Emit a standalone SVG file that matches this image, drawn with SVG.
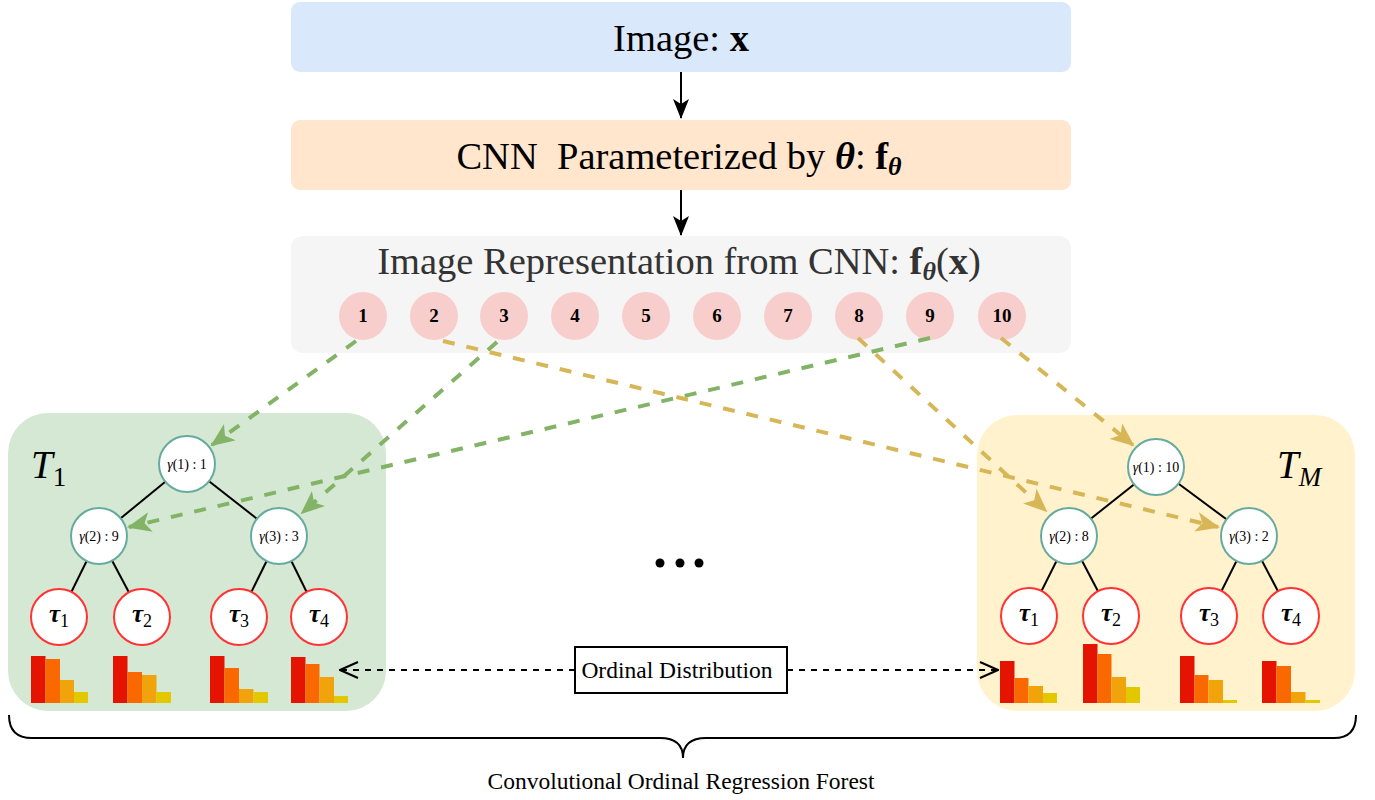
<svg xmlns="http://www.w3.org/2000/svg" width="1375" height="800" viewBox="0 0 1375 800">
<style>
text{font-family:"Liberation Serif","DejaVu Serif",serif;fill:#000}
.hdr{font-size:38.5px;text-anchor:middle}
.num{font-size:19px;font-weight:bold;text-anchor:middle}
.gam{font-size:14px;text-anchor:middle}
.tau{font-size:25px;text-anchor:middle}
.inner{fill:#fff;stroke:#67ab9f;stroke-width:2}
.leaf{fill:#fff;stroke:#ff3333;stroke-width:2}
.edge{stroke:#000;stroke-width:2}
.c1{fill:#e51400}.c2{fill:#fa6800}.c3{fill:#f0a30a}.c4{fill:#e3c800}
.gdash{fill:none;stroke:#82b366;stroke-width:4;stroke-dasharray:12 12}
.ydash{fill:none;stroke:#d6b656;stroke-width:4;stroke-dasharray:12 12}
.kdash{fill:none;stroke:#000;stroke-width:2;stroke-dasharray:6 6}
</style>
<defs>
<marker id="ag" viewBox="0 0 24 20" refX="22" refY="10" markerWidth="24" markerHeight="20" markerUnits="userSpaceOnUse" orient="auto"><path d="M0,0 L24,10 L0,20 L6,10 z" fill="#82b366"/></marker>
<marker id="ay" viewBox="0 0 24 20" refX="22" refY="10" markerWidth="24" markerHeight="20" markerUnits="userSpaceOnUse" orient="auto"><path d="M0,0 L24,10 L0,20 L6,10 z" fill="#d6b656"/></marker>
<marker id="ak" viewBox="0 0 20 16" refX="19" refY="8" markerWidth="20" markerHeight="16" markerUnits="userSpaceOnUse" orient="auto"><path d="M0,0 L20,8 L0,16 L5,8 z" fill="#000"/></marker>
<marker id="ao" viewBox="0 0 20 20" refX="19" refY="10" markerWidth="20" markerHeight="20" markerUnits="userSpaceOnUse" orient="auto"><path d="M1,2 L19,10 L1,18" fill="none" stroke="#000" stroke-width="2"/></marker>
</defs>

<g id="image">
<rect x="291" y="2" width="780" height="70" rx="9" fill="#dae8fc"/>
<text class="hdr" x="681" y="51">Image: <tspan font-weight="bold">x</tspan></text>
</g>
<g id="cnn">
<rect x="291" y="120" width="780" height="70" rx="9" fill="#ffe6cc"/>
<text class="hdr" x="679" y="169" xml:space="preserve">CNN  Parameterized by <tspan font-weight="bold" font-style="italic">θ</tspan>: <tspan font-weight="bold">f</tspan><tspan font-weight="bold" font-style="italic" font-size="26" dy="6">θ</tspan></text>
</g>
<g id="representation">
<rect x="291" y="236" width="780" height="117" rx="12" fill="#f5f5f5"/>
<text class="hdr" x="679" y="274" style="fill:#333">Image Representation from CNN: <tspan font-weight="bold" style="fill:#333">f</tspan><tspan font-weight="bold" font-style="italic" font-size="26" dy="6" style="fill:#333">θ</tspan><tspan dy="-6" style="fill:#333">(</tspan><tspan font-weight="bold" style="fill:#333">x</tspan><tspan style="fill:#333">)</tspan></text>
</g>
<g id="features">
<ellipse cx="363" cy="316" rx="24" ry="24" fill="#f8cecc"/><text class="num" x="363" y="322">1</text>
<ellipse cx="434" cy="316" rx="24" ry="24" fill="#f8cecc"/><text class="num" x="434" y="322">2</text>
<ellipse cx="504" cy="316" rx="24" ry="24" fill="#f8cecc"/><text class="num" x="504" y="322">3</text>
<ellipse cx="575" cy="316" rx="24" ry="24" fill="#f8cecc"/><text class="num" x="575" y="322">4</text>
<ellipse cx="646" cy="316" rx="24" ry="24" fill="#f8cecc"/><text class="num" x="646" y="322">5</text>
<ellipse cx="717" cy="316" rx="24" ry="24" fill="#f8cecc"/><text class="num" x="717" y="322">6</text>
<ellipse cx="788" cy="316" rx="24" ry="24" fill="#f8cecc"/><text class="num" x="788" y="322">7</text>
<ellipse cx="859" cy="316" rx="24" ry="24" fill="#f8cecc"/><text class="num" x="859" y="322">8</text>
<ellipse cx="930" cy="316" rx="24" ry="24" fill="#f8cecc"/><text class="num" x="930" y="322">9</text>
<ellipse cx="1002" cy="316" rx="24" ry="24" fill="#f8cecc"/><text class="num" x="1002" y="322">10</text>
</g>

<g id="tree1">
<rect x="8" y="413" width="378" height="298" rx="40" fill="#d5e8d4"/>
<text x="31" y="478" font-size="39" font-style="italic">T<tspan font-style="normal" font-size="27" dy="8">1</tspan></text>
<line class="edge" x1="187" y1="464" x2="99" y2="536"/>
<line class="edge" x1="187" y1="464" x2="279" y2="536"/>
<line class="edge" x1="99" y1="536" x2="59" y2="617"/>
<line class="edge" x1="99" y1="536" x2="142" y2="617"/>
<line class="edge" x1="279" y1="536" x2="239" y2="617"/>
<line class="edge" x1="279" y1="536" x2="319" y2="617"/>
<circle class="inner" cx="187" cy="464" r="28"/>
<text class="gam" x="187" y="469"><tspan font-style="italic">γ</tspan>(1) : 1</text>
<circle class="inner" cx="99" cy="536" r="28"/>
<text class="gam" x="99" y="541"><tspan font-style="italic">γ</tspan>(2) : 9</text>
<circle class="inner" cx="279" cy="536" r="28"/>
<text class="gam" x="279" y="541"><tspan font-style="italic">γ</tspan>(3) : 3</text>
<circle class="leaf" cx="59" cy="617" r="28"/>
<text class="tau" x="59" y="622"><tspan font-weight="bold" font-style="italic">τ</tspan><tspan font-size="18" dy="5">1</tspan></text>
<circle class="leaf" cx="142" cy="617" r="28"/>
<text class="tau" x="142" y="622"><tspan font-weight="bold" font-style="italic">τ</tspan><tspan font-size="18" dy="5">2</tspan></text>
<circle class="leaf" cx="239" cy="617" r="28"/>
<text class="tau" x="239" y="622"><tspan font-weight="bold" font-style="italic">τ</tspan><tspan font-size="18" dy="5">3</tspan></text>
<circle class="leaf" cx="319" cy="617" r="28"/>
<text class="tau" x="319" y="622"><tspan font-weight="bold" font-style="italic">τ</tspan><tspan font-size="18" dy="5">4</tspan></text>
<g id="hist1">
<rect class="c1" x="31" y="656" width="14.5" height="47"/><rect class="c2" x="45.5" y="659" width="14.5" height="44"/><rect class="c3" x="60" y="680" width="14" height="23"/><rect class="c4" x="74" y="692" width="14" height="11"/>
<rect class="c1" x="113" y="656" width="14.5" height="47"/><rect class="c2" x="127.5" y="672" width="14.5" height="31"/><rect class="c3" x="142" y="675" width="14.5" height="28"/><rect class="c4" x="156.5" y="692" width="14.5" height="11"/>
<rect class="c1" x="210" y="656" width="14.5" height="47"/><rect class="c2" x="224.5" y="668" width="14.5" height="35"/><rect class="c3" x="239" y="689" width="14.5" height="14"/><rect class="c4" x="253.5" y="692" width="14.5" height="11"/>
<rect class="c1" x="291" y="657" width="14.5" height="46"/><rect class="c2" x="305.5" y="664" width="14" height="39"/><rect class="c3" x="319.5" y="677" width="14.5" height="26"/><rect class="c4" x="334" y="696" width="14" height="7"/>
</g>
</g>

<g id="treeM">
<rect x="977" y="415" width="378" height="296" rx="40" fill="#fff2cc"/>
<text x="1277" y="478" font-size="39" font-style="italic">T<tspan font-size="27" dy="8">M</tspan></text>
<line class="edge" x1="1156" y1="467" x2="1069" y2="536"/>
<line class="edge" x1="1156" y1="467" x2="1249" y2="536"/>
<line class="edge" x1="1069" y1="536" x2="1029" y2="616"/>
<line class="edge" x1="1069" y1="536" x2="1111" y2="616"/>
<line class="edge" x1="1249" y1="536" x2="1209" y2="616"/>
<line class="edge" x1="1249" y1="536" x2="1291" y2="616"/>
<circle class="inner" cx="1156" cy="467" r="28"/>
<text class="gam" x="1156" y="472"><tspan font-style="italic">γ</tspan>(1) : 10</text>
<circle class="inner" cx="1069" cy="536" r="28"/>
<text class="gam" x="1069" y="541"><tspan font-style="italic">γ</tspan>(2) : 8</text>
<circle class="inner" cx="1249" cy="536" r="28"/>
<text class="gam" x="1249" y="541"><tspan font-style="italic">γ</tspan>(3) : 2</text>
<circle class="leaf" cx="1029" cy="616" r="28"/>
<text class="tau" x="1029" y="621"><tspan font-weight="bold" font-style="italic">τ</tspan><tspan font-size="18" dy="5">1</tspan></text>
<circle class="leaf" cx="1111" cy="616" r="28"/>
<text class="tau" x="1111" y="621"><tspan font-weight="bold" font-style="italic">τ</tspan><tspan font-size="18" dy="5">2</tspan></text>
<circle class="leaf" cx="1209" cy="616" r="28"/>
<text class="tau" x="1209" y="621"><tspan font-weight="bold" font-style="italic">τ</tspan><tspan font-size="18" dy="5">3</tspan></text>
<circle class="leaf" cx="1291" cy="616" r="28"/>
<text class="tau" x="1291" y="621"><tspan font-weight="bold" font-style="italic">τ</tspan><tspan font-size="18" dy="5">4</tspan></text>
<g id="histM">
<rect class="c1" x="1000" y="661" width="14.5" height="42"/><rect class="c2" x="1014.5" y="678" width="14" height="25"/><rect class="c3" x="1028.5" y="686" width="14.5" height="17"/><rect class="c4" x="1043" y="693" width="14" height="10"/>
<rect class="c1" x="1083" y="644" width="14.5" height="59"/><rect class="c2" x="1097.5" y="654" width="14" height="49"/><rect class="c3" x="1111.5" y="677" width="14.5" height="26"/><rect class="c4" x="1126" y="687" width="14" height="16"/>
<rect class="c1" x="1180" y="656" width="14.5" height="47"/><rect class="c2" x="1194.5" y="675" width="14" height="28"/><rect class="c3" x="1208.5" y="680" width="14.5" height="23"/><rect class="c4" x="1223" y="700" width="14" height="3"/>
<rect class="c1" x="1262" y="661" width="14.5" height="42"/><rect class="c2" x="1276.5" y="666" width="14.5" height="37"/><rect class="c3" x="1291" y="692" width="14.5" height="11"/><rect class="c4" x="1305.5" y="700" width="14.5" height="3"/>
</g>
</g>

<g id="ellipsis">
<circle cx="660" cy="563" r="4.5"/><circle cx="680" cy="563" r="4.5"/><circle cx="699" cy="563" r="4.5"/>
</g>

<g id="ordinal">
<rect x="575" y="647" width="212" height="46" fill="#fff" stroke="#000" stroke-width="2"/>
<text x="677" y="678" font-size="23.5" text-anchor="middle">Ordinal Distribution</text>
</g>

<g id="forest">
<path d="M9,715 Q9,738 32,738 L660,738 Q683,738 683,758 Q683,738 706,738 L1334,738 Q1356,738 1356,715" fill="none" stroke="#000" stroke-width="2"/>
<text x="681" y="789" font-size="23.5" text-anchor="middle">Convolutional Ordinal Regression Forest</text>
</g>

<g id="connectors">
<line x1="681" y1="72" x2="681" y2="118" stroke="#000" stroke-width="2" marker-end="url(#ak)"/>
<line x1="681" y1="190" x2="681" y2="235" stroke="#000" stroke-width="2" marker-end="url(#ak)"/>
<line class="gdash" x1="356" y1="341" x2="212" y2="445" marker-end="url(#ag)"/>
<line class="gdash" x1="497" y1="342" x2="302" y2="513" marker-end="url(#ag)"/>
<line class="gdash" x1="930" y1="338" x2="129" y2="527" marker-end="url(#ag)"/>
<line class="ydash" x1="443" y1="341" x2="1218" y2="527" marker-end="url(#ay)"/>
<line class="ydash" x1="858" y1="338" x2="1046" y2="511" marker-end="url(#ay)"/>
<line class="ydash" x1="1001" y1="338" x2="1133" y2="445" marker-end="url(#ay)"/>
<line class="kdash" x1="575" y1="670" x2="340" y2="670" marker-end="url(#ao)"/>
<line class="kdash" x1="787" y1="670" x2="998" y2="670" marker-end="url(#ao)"/>
</g>
</svg>
